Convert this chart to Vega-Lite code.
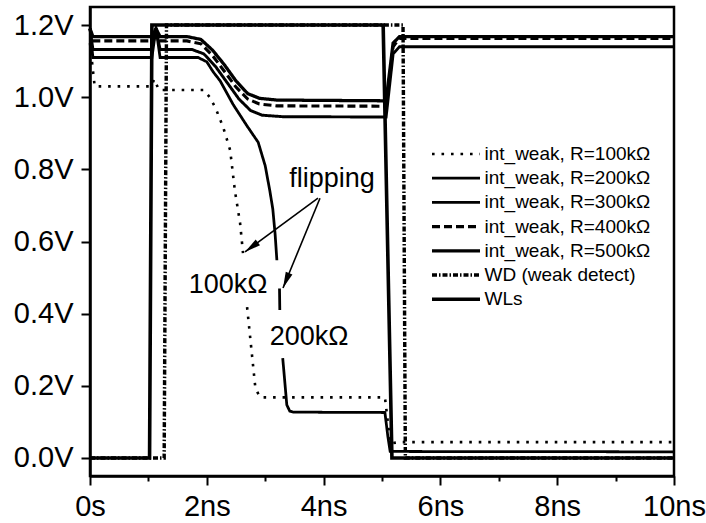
{
  "$schema": "https://vega.github.io/schema/vega-lite/v6.json",
  "width": 584,
  "height": 469,
  "autosize": "none",
  "padding": {"left": 90, "top": 7, "right": 32, "bottom": 47},
  "background": "white",
  "config": {
    "view": {"stroke": "black", "strokeWidth": 2.5},
    "font": "Liberation Sans",
    "axis": {"domainColor": "black", "domainWidth": 2.5, "tickColor": "black", "tickWidth": 2, "labelColor": "black", "labelFont": "Liberation Sans", "grid": false, "title": null, "labelOverlap": false, "labelFlush": false}
  },
  "layer": [
    {
      "data": {"values": [
        {"s": "int_weak, R=100kΩ", "g": "A1", "t": 0, "v": 1.15},
        {"s": "int_weak, R=100kΩ", "g": "A1", "t": 0.08, "v": 1.03},
        {"s": "int_weak, R=100kΩ", "g": "A1", "t": 1.05, "v": 1.03},
        {"s": "int_weak, R=100kΩ", "g": "A1", "t": 1.1, "v": 1.05},
        {"s": "int_weak, R=100kΩ", "g": "A1", "t": 1.18, "v": 1.02},
        {"s": "int_weak, R=100kΩ", "g": "A1", "t": 1.95, "v": 1.02},
        {"s": "int_weak, R=100kΩ", "g": "A1", "t": 2.05, "v": 1.0},
        {"s": "int_weak, R=100kΩ", "g": "A1", "t": 2.15, "v": 0.97},
        {"s": "int_weak, R=100kΩ", "g": "A1", "t": 2.28, "v": 0.917},
        {"s": "int_weak, R=100kΩ", "g": "A1", "t": 2.4, "v": 0.853},
        {"s": "int_weak, R=100kΩ", "g": "A1", "t": 2.48, "v": 0.742},
        {"s": "int_weak, R=100kΩ", "g": "A1", "t": 2.57, "v": 0.651},
        {"s": "int_weak, R=100kΩ", "g": "A1", "t": 2.62, "v": 0.568},
        {"s": "int_weak, R=100kΩ", "g": "A2", "t": 2.69, "v": 0.418},
        {"s": "int_weak, R=100kΩ", "g": "A2", "t": 2.77, "v": 0.291},
        {"s": "int_weak, R=100kΩ", "g": "A2", "t": 2.83, "v": 0.197},
        {"s": "int_weak, R=100kΩ", "g": "A2", "t": 2.9, "v": 0.17},
        {"s": "int_weak, R=100kΩ", "g": "A2", "t": 2.95, "v": 0.168},
        {"s": "int_weak, R=100kΩ", "g": "A2", "t": 5.05, "v": 0.168},
        {"s": "int_weak, R=100kΩ", "g": "A2", "t": 5.1, "v": 0.1},
        {"s": "int_weak, R=100kΩ", "g": "A2", "t": 5.14, "v": 0.04},
        {"s": "int_weak, R=100kΩ", "g": "A2", "t": 5.3, "v": 0.044},
        {"s": "int_weak, R=100kΩ", "g": "A2", "t": 10, "v": 0.044},

        {"s": "int_weak, R=200kΩ", "g": "B1", "t": 0, "v": 1.19},
        {"s": "int_weak, R=200kΩ", "g": "B1", "t": 0.05, "v": 1.11},
        {"s": "int_weak, R=200kΩ", "g": "B1", "t": 1.06, "v": 1.11},
        {"s": "int_weak, R=200kΩ", "g": "B1", "t": 1.13, "v": 1.19},
        {"s": "int_weak, R=200kΩ", "g": "B1", "t": 1.2, "v": 1.11},
        {"s": "int_weak, R=200kΩ", "g": "B1", "t": 1.85, "v": 1.11},
        {"s": "int_weak, R=200kΩ", "g": "B1", "t": 2.0, "v": 1.098},
        {"s": "int_weak, R=200kΩ", "g": "B1", "t": 2.11, "v": 1.07},
        {"s": "int_weak, R=200kΩ", "g": "B1", "t": 2.23, "v": 1.045},
        {"s": "int_weak, R=200kΩ", "g": "B1", "t": 2.45, "v": 0.98},
        {"s": "int_weak, R=200kΩ", "g": "B1", "t": 2.69, "v": 0.92},
        {"s": "int_weak, R=200kΩ", "g": "B1", "t": 2.88, "v": 0.875},
        {"s": "int_weak, R=200kΩ", "g": "B1", "t": 3.0, "v": 0.81},
        {"s": "int_weak, R=200kΩ", "g": "B1", "t": 3.08, "v": 0.74},
        {"s": "int_weak, R=200kΩ", "g": "B1", "t": 3.13, "v": 0.69},
        {"s": "int_weak, R=200kΩ", "g": "B1", "t": 3.17, "v": 0.62},
        {"s": "int_weak, R=200kΩ", "g": "B1", "t": 3.2, "v": 0.548},
        {"s": "int_weak, R=200kΩ", "g": "B2", "t": 3.245, "v": 0.47},
        {"s": "int_weak, R=200kΩ", "g": "B2", "t": 3.25, "v": 0.41},
        {"s": "int_weak, R=200kΩ", "g": "B3", "t": 3.3, "v": 0.277},
        {"s": "int_weak, R=200kΩ", "g": "B3", "t": 3.37, "v": 0.147},
        {"s": "int_weak, R=200kΩ", "g": "B3", "t": 3.42, "v": 0.13},
        {"s": "int_weak, R=200kΩ", "g": "B3", "t": 3.48, "v": 0.127},
        {"s": "int_weak, R=200kΩ", "g": "B3", "t": 5.05, "v": 0.126},
        {"s": "int_weak, R=200kΩ", "g": "B3", "t": 5.1, "v": 0.06},
        {"s": "int_weak, R=200kΩ", "g": "B3", "t": 5.14, "v": 0.018},
        {"s": "int_weak, R=200kΩ", "g": "B3", "t": 10, "v": 0.017},

        {"s": "int_weak, R=300kΩ", "g": "C", "t": 0, "v": 1.19},
        {"s": "int_weak, R=300kΩ", "g": "C", "t": 0.05, "v": 1.132},
        {"s": "int_weak, R=300kΩ", "g": "C", "t": 1.06, "v": 1.132},
        {"s": "int_weak, R=300kΩ", "g": "C", "t": 1.13, "v": 1.19},
        {"s": "int_weak, R=300kΩ", "g": "C", "t": 1.2, "v": 1.132},
        {"s": "int_weak, R=300kΩ", "g": "C", "t": 1.75, "v": 1.132},
        {"s": "int_weak, R=300kΩ", "g": "C", "t": 1.95, "v": 1.12},
        {"s": "int_weak, R=300kΩ", "g": "C", "t": 2.15, "v": 1.085},
        {"s": "int_weak, R=300kΩ", "g": "C", "t": 2.35, "v": 1.04},
        {"s": "int_weak, R=300kΩ", "g": "C", "t": 2.55, "v": 0.995},
        {"s": "int_weak, R=300kΩ", "g": "C", "t": 2.75, "v": 0.963},
        {"s": "int_weak, R=300kΩ", "g": "C", "t": 2.95, "v": 0.95},
        {"s": "int_weak, R=300kΩ", "g": "C", "t": 3.3, "v": 0.946},
        {"s": "int_weak, R=300kΩ", "g": "C", "t": 5.07, "v": 0.945},
        {"s": "int_weak, R=300kΩ", "g": "C", "t": 5.19, "v": 1.12},
        {"s": "int_weak, R=300kΩ", "g": "C", "t": 5.3, "v": 1.14},
        {"s": "int_weak, R=300kΩ", "g": "C", "t": 10, "v": 1.14},

        {"s": "int_weak, R=400kΩ", "g": "D", "t": 0, "v": 1.19},
        {"s": "int_weak, R=400kΩ", "g": "D", "t": 0.05, "v": 1.156},
        {"s": "int_weak, R=400kΩ", "g": "D", "t": 1.06, "v": 1.156},
        {"s": "int_weak, R=400kΩ", "g": "D", "t": 1.13, "v": 1.19},
        {"s": "int_weak, R=400kΩ", "g": "D", "t": 1.2, "v": 1.156},
        {"s": "int_weak, R=400kΩ", "g": "D", "t": 1.66, "v": 1.156},
        {"s": "int_weak, R=400kΩ", "g": "D", "t": 1.9, "v": 1.148},
        {"s": "int_weak, R=400kΩ", "g": "D", "t": 2.1, "v": 1.115},
        {"s": "int_weak, R=400kΩ", "g": "D", "t": 2.3, "v": 1.072},
        {"s": "int_weak, R=400kΩ", "g": "D", "t": 2.5, "v": 1.028},
        {"s": "int_weak, R=400kΩ", "g": "D", "t": 2.7, "v": 0.995},
        {"s": "int_weak, R=400kΩ", "g": "D", "t": 2.9, "v": 0.981},
        {"s": "int_weak, R=400kΩ", "g": "D", "t": 3.2, "v": 0.976},
        {"s": "int_weak, R=400kΩ", "g": "D", "t": 5.07, "v": 0.975},
        {"s": "int_weak, R=400kΩ", "g": "D", "t": 5.19, "v": 1.14},
        {"s": "int_weak, R=400kΩ", "g": "D", "t": 5.3, "v": 1.163},
        {"s": "int_weak, R=400kΩ", "g": "D", "t": 10, "v": 1.163},

        {"s": "int_weak, R=500kΩ", "g": "E", "t": 0, "v": 1.19},
        {"s": "int_weak, R=500kΩ", "g": "E", "t": 0.05, "v": 1.168},
        {"s": "int_weak, R=500kΩ", "g": "E", "t": 1.06, "v": 1.168},
        {"s": "int_weak, R=500kΩ", "g": "E", "t": 1.13, "v": 1.19},
        {"s": "int_weak, R=500kΩ", "g": "E", "t": 1.2, "v": 1.168},
        {"s": "int_weak, R=500kΩ", "g": "E", "t": 1.66, "v": 1.168},
        {"s": "int_weak, R=500kΩ", "g": "E", "t": 1.9, "v": 1.16},
        {"s": "int_weak, R=500kΩ", "g": "E", "t": 2.1, "v": 1.13},
        {"s": "int_weak, R=500kΩ", "g": "E", "t": 2.3, "v": 1.09},
        {"s": "int_weak, R=500kΩ", "g": "E", "t": 2.5, "v": 1.045},
        {"s": "int_weak, R=500kΩ", "g": "E", "t": 2.7, "v": 1.01},
        {"s": "int_weak, R=500kΩ", "g": "E", "t": 2.9, "v": 0.997},
        {"s": "int_weak, R=500kΩ", "g": "E", "t": 3.2, "v": 0.992},
        {"s": "int_weak, R=500kΩ", "g": "E", "t": 5.07, "v": 0.99},
        {"s": "int_weak, R=500kΩ", "g": "E", "t": 5.19, "v": 1.15},
        {"s": "int_weak, R=500kΩ", "g": "E", "t": 5.3, "v": 1.168},
        {"s": "int_weak, R=500kΩ", "g": "E", "t": 10, "v": 1.168},

        {"s": "WD (weak detect)", "g": "F", "t": 0, "v": 0},
        {"s": "WD (weak detect)", "g": "F", "t": 1.27, "v": 0},
        {"s": "WD (weak detect)", "g": "F", "t": 1.31, "v": 1.2},
        {"s": "WD (weak detect)", "g": "F", "t": 5.36, "v": 1.2},
        {"s": "WD (weak detect)", "g": "F", "t": 5.4, "v": 0},
        {"s": "WD (weak detect)", "g": "F", "t": 10, "v": 0},

        {"s": "WLs", "g": "G", "t": 0, "v": 0},
        {"s": "WLs", "g": "G", "t": 1.02, "v": 0},
        {"s": "WLs", "g": "G", "t": 1.06, "v": 1.2},
        {"s": "WLs", "g": "G", "t": 5.02, "v": 1.2},
        {"s": "WLs", "g": "G", "t": 5.17, "v": 0},
        {"s": "WLs", "g": "G", "t": 10, "v": 0}
      ]},
      "mark": {"type": "line", "color": "black", "strokeCap": "butt"},
      "encoding": {
        "x": {"field": "t", "type": "quantitative",
          "scale": {"domain": [0, 10], "nice": false, "zero": false},
          "axis": {"values": [0,1,2,3,4,5,6,7,8,9,10],
            "labelExpr": "datum.value == 0 ? '0s' : (datum.value % 2 == 0 ? datum.value + 'ns' : '')",
            "tickSize": {"condition": {"test": "datum.value % 2 == 0", "value": 9}, "value": 5},
            "labelFontSize": 29, "labelPadding": 7}},
        "y": {"field": "v", "type": "quantitative",
          "scale": {"domain": [-0.05, 1.25], "nice": false, "zero": false},
          "axis": {"values": [0,0.1,0.2,0.3,0.4,0.5,0.6,0.7,0.8,0.9,1.0,1.1,1.2],
            "labelExpr": "round(datum.value*10) % 2 == 0 ? format(datum.value, '.1f') + 'V' : ''",
            "tickSize": {"condition": {"test": "round(datum.value*10) % 2 == 0", "value": 9}, "value": 5},
            "labelFontSize": 29, "labelPadding": 8}},
        "detail": {"field": "g", "type": "nominal"},
        "strokeDash": {"field": "s", "type": "nominal",
          "scale": {"domain": ["int_weak, R=100kΩ","int_weak, R=200kΩ","int_weak, R=300kΩ","int_weak, R=400kΩ","int_weak, R=500kΩ","WD (weak detect)","WLs"],
            "range": [[2.6,6.9],[1,0],[1,0],[8,4],[1,0],[5,2,1.5,2],[1,0]]},
          "legend": {"orient": "none", "legendX": 342, "legendY": 137.5, "title": null,
            "symbolType": "M-4,0L4,0", "symbolSize": 144, "symbolOffset": 14.5, "labelOffset": 19,
            "labelFontSize": 19, "labelFont": "Liberation Sans", "labelColor": "black", "rowPadding": 4.2,
            "symbolStrokeColor": "black", "symbolFillColor": "transparent", "padding": 0, "labelLimit": 400}},
        "strokeWidth": {"field": "s", "type": "nominal",
          "scale": {"domain": ["int_weak, R=100kΩ","int_weak, R=200kΩ","int_weak, R=300kΩ","int_weak, R=400kΩ","int_weak, R=500kΩ","WD (weak detect)","WLs"],
            "range": [2.6,3.6,2.2,2.4,1.8,1.6,1.6]},
          "legend": {"orient": "none", "legendX": 342, "legendY": 137.5, "title": null,
            "symbolType": "M-4,0L4,0", "symbolSize": 144, "symbolOffset": 14.5, "labelOffset": 19,
            "labelFontSize": 19, "labelFont": "Liberation Sans", "labelColor": "black", "rowPadding": 4.2,
            "symbolStrokeColor": "black", "symbolFillColor": "transparent", "padding": 0, "labelLimit": 400}}
      }
    },
    {
      "data": {"values": [
        {"t": 3.904, "v": 0.72, "t2": 2.654, "v2": 0.571, "a": 233.5},
        {"t": 3.938, "v": 0.72, "t2": 3.305, "v2": 0.471, "a": 202.3}
      ]},
      "layer": [
        {"mark": {"type": "rule", "color": "black", "strokeWidth": 1.6},
         "encoding": {"x": {"field": "t", "type": "quantitative"}, "y": {"field": "v", "type": "quantitative"},
           "x2": {"field": "t2"}, "y2": {"field": "v2"}}},
        {"mark": {"type": "point", "shape": "M0,0L0.45,2L-0.45,2Z", "filled": true, "color": "black", "size": 256, "opacity": 1},
         "encoding": {"x": {"field": "t2", "type": "quantitative"}, "y": {"field": "v2", "type": "quantitative"},
           "angle": {"field": "a", "type": "quantitative", "scale": null}}}
      ]
    },
    {
      "data": {"values": [
        {"t": 4.144, "v": 0.7515, "label": "flipping"},
        {"t": 2.363, "v": 0.457, "label": "100kΩ"},
        {"t": 3.75, "v": 0.313, "label": "200kΩ"}
      ]},
      "mark": {"type": "text", "fontSize": 27, "font": "Liberation Sans", "color": "black", "align": "center", "baseline": "alphabetic"},
      "encoding": {"x": {"field": "t", "type": "quantitative"}, "y": {"field": "v", "type": "quantitative"}, "text": {"field": "label"}}
    }
  ]
}
